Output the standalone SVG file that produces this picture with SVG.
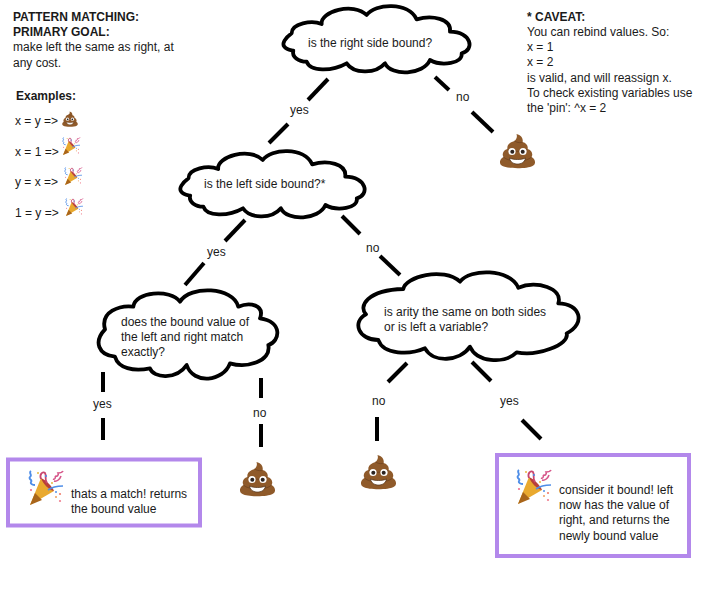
<svg xmlns="http://www.w3.org/2000/svg" width="720" height="600" viewBox="0 0 720 600">
<style>
text{font-family:"Liberation Sans",Arial,sans-serif;font-size:12px;fill:#1a1a1a}
.b{font-weight:bold}
.cl{fill:#fff;stroke:#000;stroke-width:3.8;stroke-linejoin:round;vector-effect:non-scaling-stroke}
.cn line{stroke:#000;stroke-width:4}
.box{fill:#fff;stroke:#b388eb;stroke-width:4}
</style>
<defs>
<path id="cloud" class="cl" d="M50 100 C50 70 110 60 140 72 C135 35 235 5 275 45 C300 10 400 5 425 58 C470 45 530 55 525 95 C590 95 600 150 560 160 C565 190 500 200 465 180 C445 225 350 230 330 190 C300 225 235 220 215 190 C170 215 105 215 95 185 C70 185 50 170 55 152 C45 150 35 150 28 140 C20 130 30 115 50 100 Z"/>
<symbol id="poop" viewBox="0 0 36 36">
<path d="M17 1 C22 2 24 6 23 9 C27 10 29 13 28 16 C32 17 34 21 32 24 C36 26 37 31 33 33 C28 36 8 36 3 33 C-1 31 0 26 4 24 C2 21 4 17 8 16 C7 12 11 9 15 8 C17 6 18 4 17 1 Z" fill="#8f5a2a"/>
<path d="M15 8 C18 10 22 10 23 9 M8 16 C13 19 23 19 28 16 M4 24 C6 26 9 27 11 27 M32 24 C30 26 27 27 25 27" fill="none" stroke="#6d4220" stroke-width=".8"/>
<circle cx="12.500" cy="18.500" r="3.600" fill="#fff"/><circle cx="23.500" cy="18.500" r="3.600" fill="#fff"/>
<circle cx="12.800" cy="18.800" r="2" fill="#2b2320"/><circle cx="23.200" cy="18.800" r="2" fill="#2b2320"/>
<path d="M10 25 C14 27 22 27 26 25 C25 30 21 31 18 31 C15 31 11 30 10 25 Z" fill="#fff" stroke="#4a2c14" stroke-width=".7"/>
</symbol>
<symbol id="party" viewBox="0 0 37 37">
<path d="M2 35 L13 8 L26 21 Z" fill="#e9a92f"/>
<path d="M2 35 L7 23 L14 30 Z" fill="#a9651a"/>
<path d="M13 8 C18 10 24 16 26 21 C21 20 15 14 13 8 Z" fill="#b8403a"/>
<path d="M3 1 C0 3 5 5 2 7 C0 9 5 10 3 12 C2 14 5 15 7 15" fill="none" stroke="#4f8ee8" stroke-width="1.800"/>
<path d="M13 9 C11 4 15 1 17 3 C19 6 16 10 19 13" fill="none" stroke="#c9476f" stroke-width="1.800"/>
<path d="M25 9 C27 10 28 7 27 6 C29 7 31 5 30 3 C32 3 34 3 35 1 M26 11 C29 12 32 9 33 6" fill="none" stroke="#d6578a" stroke-width="1.600"/>
<path d="M20 20 C24 17 30 16 35 16" fill="none" stroke="#4f8ee8" stroke-width="1.600"/>
<circle cx="3" cy="20" r="1.100" fill="#ef6f8f"/><circle cx="18" cy="6" r="1.100" fill="#4f8ee8"/><circle cx="10" cy="3" r="1" fill="#e9b93f"/>
<circle cx="24" cy="13" r="1" fill="#e9b93f"/><circle cx="32" cy="24" r="1.100" fill="#ef7f6f"/><circle cx="28" cy="22" r="1" fill="#4f8ee8"/><circle cx="32" cy="31" r="1.100" fill="#ef7f8f"/><circle cx="28" cy="27" r="1" fill="#ef9f5f"/>
</symbol>
</defs>
<rect width="720" height="600" fill="#fff"/>
<g id="connectors" class="cn">
<line x1="328" y1="79" x2="308" y2="100"/><line x1="288" y1="124" x2="269" y2="143"/>
<line x1="435" y1="77" x2="449" y2="90"/><line x1="472" y1="112" x2="493" y2="132"/>
<line x1="245" y1="220" x2="225" y2="241"/><line x1="204" y1="263" x2="185" y2="285"/>
<line x1="342" y1="216" x2="360" y2="234"/><line x1="380" y1="256" x2="400" y2="275"/>
<line x1="103" y1="372" x2="103" y2="392"/><line x1="103" y1="418" x2="103" y2="440"/>
<line x1="261" y1="378" x2="261" y2="398"/><line x1="261" y1="424" x2="261" y2="447"/>
<line x1="407" y1="363" x2="388" y2="382"/><line x1="377" y1="417" x2="377" y2="441"/>
<line x1="472" y1="362" x2="491" y2="381"/><line x1="522" y1="420" x2="541" y2="439"/>
<text x="290" y="114">yes</text><text x="456" y="101">no</text>
<text x="207" y="256">yes</text><text x="366" y="252">no</text>
<text x="93" y="408">yes</text><text x="253" y="417">no</text>
<text x="372" y="405">no</text><text x="500" y="405">yes</text>
</g>
<g id="goal"><text class="b" x="13" y="21">PATTERN MATCHING:</text><text class="b" x="13" y="36">PRIMARY GOAL:</text><text x="13" y="51">make left the same as right, at</text><text x="13" y="67">any cost.</text></g>
<g id="examples"><text class="b" x="16" y="100">Examples:</text>
<text x="15" y="125">x = y =&gt;</text><use href="#poop" x="62" y="111" width="16" height="16"/>
<text x="15" y="156">x = 1 =&gt;</text><use href="#party" x="62" y="137" width="19" height="19"/>
<text x="15" y="186">y = x =&gt;</text><use href="#party" x="64" y="167" width="19" height="19"/>
<text x="15" y="217">1 = y =&gt;</text><use href="#party" x="65" y="198" width="19" height="19"/></g>
<g id="caveat"><text class="b" x="527" y="21">* CAVEAT:</text><text x="527" y="36">You can rebind values. So:</text><text x="527" y="51">x = 1</text><text x="527" y="66">x = 2</text><text x="527" y="82">is valid, and will reassign x.</text><text x="527" y="97">To check existing variables use</text><text x="527" y="112">the 'pin': ^x = 2</text></g>
<g id="cloud-right"><use href="#cloud" transform="translate(275,0) scale(.3333)"/><text x="308" y="47">is the right side bound?</text></g>
<g id="cloud-left"><use href="#cloud" transform="translate(172,145) scale(.33,.3333)"/><text x="204" y="188">is the left side bound?*</text></g>
<g id="cloud-match"><path class="cl" transform="translate(90,285) scale(.3333)" d="M45 133 C30 80 90 60 130 65 C135 20 240 10 270 50 C300 0 430 5 445 65 C480 50 525 60 510 100 C580 110 570 170 535 180 C545 230 470 250 420 235 C400 290 310 300 290 240 C260 285 190 280 180 250 C130 260 85 250 75 215 C25 210 10 170 45 133 Z"/><text x="121" y="326">does the bound value of</text><text x="121" y="341">the left and right match</text><text x="121" y="356">exactly?</text></g>
<g id="cloud-arity"><path class="cl" transform="translate(350,265) scale(.3333)" d="M48 148 C25 125 50 75 160 72 C165 35 280 5 330 50 C360 10 480 10 505 68 C560 45 640 70 625 115 C690 115 710 175 650 205 C660 240 560 275 500 262 C460 300 380 290 360 245 C330 290 250 295 225 250 C180 270 100 270 85 225 C25 225 5 170 48 148 Z"/><text x="384" y="316">is arity the same on both sides</text><text x="384" y="331">or is left a variable?</text></g>
<g id="poop-1"><use href="#poop" x="499" y="133" width="37" height="36"/></g>
<g id="poop-2"><use href="#poop" x="239" y="461" width="37" height="36"/></g>
<g id="poop-3"><use href="#poop" x="360" y="454" width="37" height="36"/></g>
<g id="box-match"><rect class="box" x="8" y="459.500" width="192" height="66"/><use href="#party" x="28" y="470" width="37" height="37"/><text x="71" y="498">thats a match! returns</text><text x="71" y="513">the bound value</text></g>
<g id="box-bound"><rect class="box" x="497" y="455" width="192" height="101"/><use href="#party" x="516" y="469" width="37" height="37"/><text x="559" y="494">consider it bound! left</text><text x="559" y="509">now has the value of</text><text x="559" y="524">right, and returns the</text><text x="559" y="540">newly bound value</text></g>
</svg>
